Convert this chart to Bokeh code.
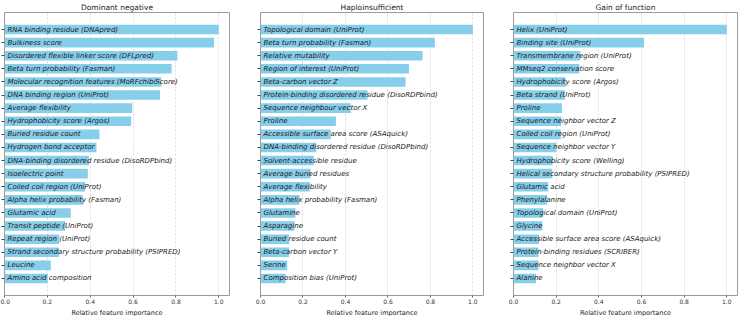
from bokeh.plotting import figure
from bokeh.layouts import row
from bokeh.models import (FactorRange, Range1d, FixedTicker, NumeralTickFormatter,
                          CustomJSTickFormatter, ColumnDataSource, Title)
from bokeh.core.properties import value
from bokeh.embed import file_html
from bokeh.resources import INLINE

# Feature importances per mechanism, sorted from most to least important
dn_features = [
    "RNA binding residue (DNApred)", "Bulkiness score",
    "Disordered flexible linker score (DFLpred)", "Beta turn probability (Fasman)",
    "Molecular recognition features (MoRFchibiScore)", "DNA binding region (UniProt)",
    "Average flexibility", "Hydrophobicity score (Argos)", "Buried residue count",
    "Hydrogen bond acceptor", "DNA-binding disordered residue (DisoRDPbind)",
    "Isoelectric point", "Coiled coil region (UniProt)", "Alpha helix probability (Fasman)",
    "Glutamic acid", "Transit peptide (UniProt)", "Repeat region (UniProt)",
    "Strand secondary structure probability (PSIPRED)", "Leucine", "Amino acid composition",
]
dn_values = [1.0, 0.978, 0.807, 0.780, 0.732, 0.726, 0.596, 0.591, 0.443, 0.429,
             0.394, 0.389, 0.376, 0.365, 0.309, 0.283, 0.256, 0.255, 0.216, 0.202]

hi_features = [
    "Topological domain (UniProt)", "Beta turn probability (Fasman)", "Relative mutability",
    "Region of interest (UniProt)", "Beta-carbon vector Z",
    "Protein-binding disordered residue (DisoRDPbind)", "Sequence neighbour vector X",
    "Proline", "Accessible surface area score (ASAquick)",
    "DNA-binding disordered residue (DisoRDPbind)", "Solvent-accessible residue",
    "Average buried residues", "Average flexibility", "Alpha helix probability (Fasman)",
    "Glutamine", "Asparagine", "Buried residue count", "Beta-carbon vector Y", "Serine",
    "Composition bias (UniProt)",
]
hi_values = [1.0, 0.821, 0.763, 0.699, 0.683, 0.504, 0.425, 0.355, 0.331, 0.262,
             0.250, 0.236, 0.232, 0.184, 0.165, 0.160, 0.135, 0.134, 0.126, 0.118]

gof_features = [
    "Helix (UniProt)", "Binding site (UniProt)", "Transmembrane region (UniProt)",
    "MMseq2 conservation score", "Hydrophobicity score (Argos)", "Beta strand (UniProt)",
    "Proline", "Sequence neighbor vector Z", "Coiled coil region (UniProt)",
    "Sequence neighbor vector Y", "Hydrophobicity score (Welling)",
    "Helical secondary structure probability (PSIPRED)", "Glutamic acid", "Phenylalanine",
    "Topological domain (UniProt)", "Glycine", "Accessible surface area score (ASAquick)",
    "Protein-binding residues (SCRIBER)", "Sequence neighbor vector X", "Alanine",
]
gof_values = [1.0, 0.612, 0.313, 0.308, 0.244, 0.241, 0.227, 0.224, 0.222, 0.200,
              0.183, 0.182, 0.163, 0.158, 0.139, 0.135, 0.120, 0.117, 0.117, 0.106]

titles = ["Dominant negative", "Haploinsufficient", "Gain of function"]
x_label = "Relative feature importance"
x_ticks = [0.0, 0.2, 0.4, 0.6, 0.8, 1.0]

FONT = "DejaVu Sans"
BAR_COLOR = "#87ceeb"


def panel(title, features, values, width, border_left, border_right):
    src = ColumnDataSource(dict(feature=features, importance=values))
    y_range = FactorRange(factors=list(reversed(features)),
                          range_padding=0.8, range_padding_units="absolute")
    p = figure(width=width, height=316, y_range=y_range, x_range=Range1d(0, 1.05),
               output_backend="svg", toolbar_location=None,
               min_border_left=border_left, min_border_right=border_right,
               min_border_top=12, min_border_bottom=0)
    p.title.text = title
    p.title.align = "center"
    p.title.text_font = FONT
    p.title.text_font_size = "7.5px"
    p.title.text_font_style = "normal"
    p.title.text_color = "#222222"
    p.title.standoff = 1
    p.title.offset = 0

    p.hbar(y="feature", right="importance", left=0, height=0.73, source=src,
           color=BAR_COLOR, line_color=None)
    # feature names written inside the plot, starting at the zero line
    p.text(x=0, y="feature", text="feature", source=src, x_offset=3,
           text_font=value(FONT), text_font_style="italic", text_font_size="7px",
           text_baseline="middle", text_align="left", text_color="#1a1a1a")

    p.outline_line_color = "#9a9a9a"
    p.outline_line_width = 1
    p.ygrid.grid_line_color = None
    p.xgrid.grid_line_color = "#d0d0d0"
    p.xgrid.grid_line_dash = "2 2"
    p.xgrid.grid_line_width = 0.8
    p.xgrid.ticker = FixedTicker(ticks=x_ticks)

    xa = p.xaxis[0]
    xa.ticker = FixedTicker(ticks=x_ticks)
    xa.formatter = NumeralTickFormatter(format="0.0")
    xa.axis_line_color = None
    xa.major_tick_out = 2
    xa.major_tick_in = 0
    xa.major_tick_line_color = "#666666"
    xa.minor_tick_line_color = None
    xa.major_label_text_font = FONT
    xa.major_label_text_font_size = "6px"
    xa.major_label_text_color = "#333333"
    xa.major_label_standoff = 1

    # x axis caption as a compact title under the axis
    p.add_layout(Title(text=x_label, align="center", text_font=FONT,
                       text_font_size="6.5px", text_font_style="normal",
                       text_color="#222222", standoff=0, offset=0), "below")

    # y axis keeps only its tick marks; the names are drawn inside the bars
    ya = p.yaxis[0]
    ya.axis_line_color = None
    ya.major_tick_out = 3
    ya.major_tick_in = 0
    ya.major_tick_line_color = "#444444"
    ya.formatter = CustomJSTickFormatter(code="return ''")
    ya.major_label_text_color = None
    ya.major_label_standoff = 0
    return p


p1 = panel(titles[0], dn_features, dn_values, 250, 4, 21)
p2 = panel(titles[1], hi_features, hi_values, 250, 10, 17)
p3 = panel(titles[2], gof_features, gof_values, 240, 13, 3)

layout = row(p1, p2, p3, spacing=0)
open("out.html", "w").write(file_html(layout, INLINE))
